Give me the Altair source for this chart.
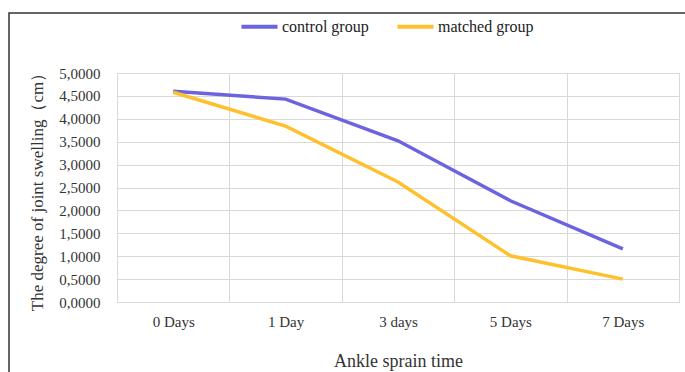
import altair as alt
import pandas as pd

categories = ["0 Days", "1 Day", "3 days", "5 Days", "7 Days"]
control_group = [4.60, 4.43, 3.52, 2.21, 1.16]
matched_group = [4.58, 3.84, 2.62, 1.01, 0.50]
series_names = ["control group", "matched group"]
y_ticks = [0, 0.5, 1, 1.5, 2, 2.5, 3, 3.5, 4, 4.5, 5]

rows = []
for name, vals in zip(series_names, [control_group, matched_group]):
    for c, v in zip(categories, vals):
        rows.append({"time": c, "value": v, "group": name})
df = pd.DataFrame(rows)

FONT = "Liberation Serif"

lines = alt.Chart(df).mark_line(strokeWidth=3.5).encode(
    x=alt.X("time:N", sort=categories,
            scale=alt.Scale(type="band", paddingInner=0, paddingOuter=0),
            axis=alt.Axis(title="Ankle sprain time", labelAngle=0, tickBand="extent",
                          ticks=False, domain=False, grid=True, gridColor="#d9d9d9",
                          labelFont=FONT, labelFontSize=15, labelColor="#333333",
                          labelPadding=12, titleFont=FONT, titleFontSize=18,
                          titleFontWeight="normal", titleColor="#333333", titlePadding=23)),
    y=alt.Y("value:Q", scale=alt.Scale(domain=[0, 5], nice=False),
            axis=alt.Axis(title="The degree of joint swelling（cm）", values=y_ticks,
                          labelExpr="replace(format(datum.value, '.4f'), '.', ',')",
                          ticks=False, domain=False, gridColor="#d9d9d9",
                          labelFont=FONT, labelFontSize=15, labelColor="#333333",
                          labelPadding=17, titleFont=FONT, titleFontSize=17,
                          titleFontWeight="normal", titleColor="#333333", titlePadding=12)),
    color=alt.Color("group:N", sort=series_names,
                    scale=alt.Scale(domain=series_names, range=["#6C63E0", "#FFC02E"]),
                    legend=alt.Legend(title=None, orient="none", direction="horizontal",
                                      legendX=122, legendY=-67,
                                      symbolType="stroke", symbolStrokeWidth=4,
                                      symbolSize=1300, labelFont=FONT, labelFontSize=16,
                                      labelColor="#222222", labelOffset=2, columnPadding=20)),
)

frame = alt.Chart(pd.DataFrame({"a": [0]})).mark_rect(
    fill="transparent", stroke="#333333", strokeWidth=1.5
).encode(
    x=alt.value(-108), x2=alt.value(600), y=alt.value(-60), y2=alt.value(340)
)

chart = alt.layer(frame, lines).properties(
    width=562, height=229,
    autosize=alt.AutoSizeParams(type="none"),
    padding={"left": 117, "top": 73, "right": 6, "bottom": 70},
).configure_view(stroke="#d9d9d9", strokeWidth=1).configure(background="white")

chart.save("out.html", embed_options={"renderer": "svg", "actions": False})
